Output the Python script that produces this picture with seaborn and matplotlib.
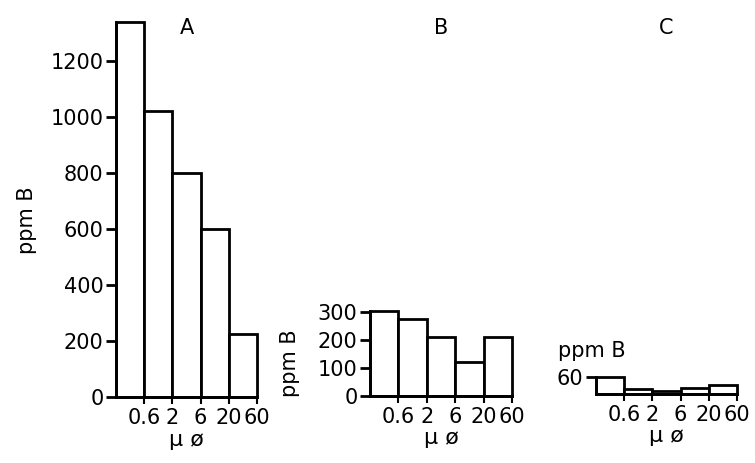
import matplotlib
matplotlib.use("Agg")
import matplotlib.pyplot as plt
import matplotlib.transforms as mtransforms
import seaborn as sns

# Data: boron (ppm) per particle size fraction (micrometres)
fractions = ["<0.6", "0.6-2", "2-6", "6-20", "20-60"]
edge_labels = ["0.6", "2", "6", "20", "60"]
boron_a = [1340, 1020, 800, 600, 225]
boron_b = [302, 275, 210, 120, 210]
boron_c = [60, 17, 10, 22, 33]
yticks_a = [0, 200, 400, 600, 800, 1000, 1200]
yticks_b = [0, 100, 200, 300]
yticks_c = [60]

sns.set_style("ticks")
plt.rcParams["font.family"] = ["DejaVu Sans"]
plt.rcParams["font.size"] = 15
for k in ["text.color", "axes.labelcolor", "xtick.color", "ytick.color", "axes.edgecolor"]:
    plt.rcParams[k] = "black"

W, H = 755, 463
fig = plt.figure(figsize=(W / 100, H / 100), dpi=100)

px_per_unit = 0.28

# (left px, right px, baseline px)
layout = {
    "A": (116, 257, 397),
    "B": (370, 512, 396),
    "C": (596, 737, 394),
}
panels = {"A": (boron_a, yticks_a), "B": (boron_b, yticks_b), "C": (boron_c, yticks_c)}

axes = {}
for name, (vals, yt) in panels.items():
    left, right, base = layout[name]
    ymax = max(vals)
    h = ymax * px_per_unit
    ax = fig.add_axes([left / W, (H - base) / H, (right - left) / W, h / H])
    sns.barplot(x=fractions, y=vals, color="white", edgecolor="black",
                linewidth=2, width=1, saturation=1, ax=ax)
    for p in ax.patches:
        p.set_clip_on(False)
    ax.set_xlim(-0.5, 4.5)
    ax.set_ylim(0, ymax)
    ax.set_xticks([0.5, 1.5, 2.5, 3.5, 4.5])
    ax.set_xticklabels(edge_labels)
    ax.set_yticks(yt)
    ax.tick_params(axis="y", length=7, width=2, pad=2)
    ax.tick_params(axis="x", length=5, width=1.5, pad=3)
    sns.despine(ax=ax)
    for s in ["left", "bottom"]:
        ax.spines[s].set_linewidth(2)
    ax.set_xlabel("µ ø", labelpad=1, fontsize=16)
    ax.set_ylabel("")
    tr = mtransforms.blended_transform_factory(ax.transAxes, fig.transFigure)
    ax.text(0.5, (H - 28) / H, name, transform=tr, ha="center", va="center", fontsize=15)
    axes[name] = ax

axes["A"].set_ylabel("ppm B")
axes["A"].yaxis.set_label_coords(-0.56, 0.47)
axes["B"].set_ylabel("ppm B")
axes["B"].yaxis.set_label_coords(-0.49, 0.39)
fig.text(558 / W, (H - 351) / H, "ppm B", ha="left", va="center", fontsize=15)

fig.savefig("out.png", dpi=100)
